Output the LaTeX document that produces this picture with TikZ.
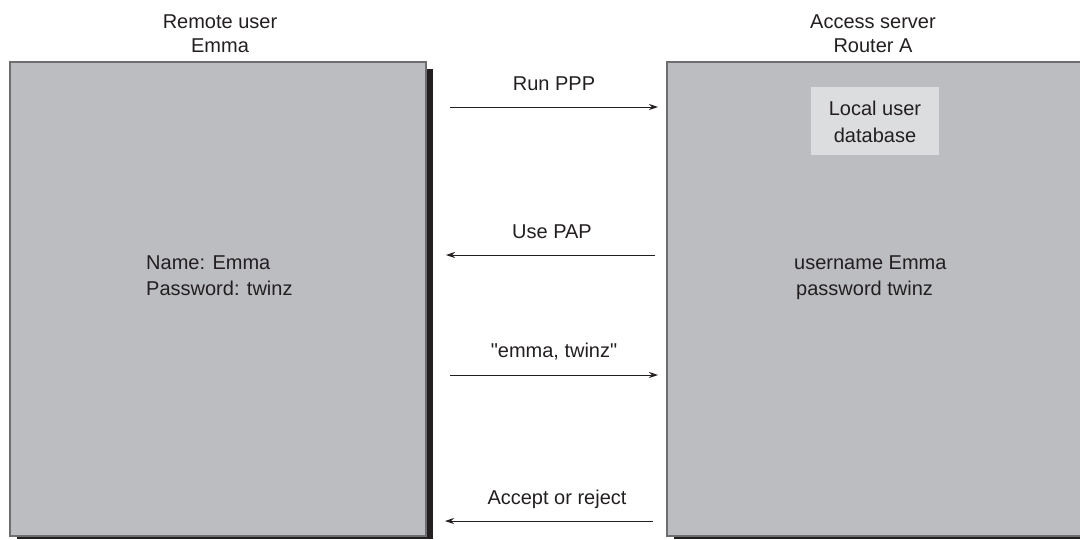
\documentclass[tikz,border=0pt]{standalone}
\usepackage{fontspec}
\setmainfont{Liberation Sans}
\usetikzlibrary{arrows.meta}
\definecolor{panel}{HTML}{BCBDC1}
\definecolor{panelline}{HTML}{6D6E70}
\definecolor{shadowc}{HTML}{231F20}
\definecolor{dbfill}{HTML}{DCDDDF}
\definecolor{ink}{HTML}{231F20}
\tikzset{
  panelbox/.style={fill=panel, draw=panelline, line width=1.5pt},
  shadowbox/.style={fill=shadowc, draw=none},
  label/.style={text=ink, font=\fontsize{20}{26}\selectfont, inner sep=0pt},
  msg/.style={draw=ink, line width=1pt, -{Stealth[length=9pt,width=6pt]}},
}
\begin{document}
\begin{tikzpicture}[x=1pt, y=-1pt]
  \useasboundingbox (0,0) rectangle (1080,539);

  % Remote user panel with drop shadow
  \fill[shadowbox] (17,69) rectangle (433,539);
  \draw[panelbox] (10,62) rectangle (426,536);

  % Access server panel with drop shadow
  \fill[shadowbox] (674,69) rectangle (1080,539);
  \draw[panelbox] (667,62) rectangle (1082,536);

  % Local user database
  \node[fill=dbfill, minimum width=128pt, minimum height=68pt, inner sep=0pt] (db) at (875,121) {};
  \node[label, anchor=base] (dbA) at (875,115) {Local user};
  \node[label, anchor=base] (dbB) at (875,142) {database};

  % Titles
  \node[label, anchor=base] (ltitleA) at (220,28) {Remote user};
  \node[label, anchor=base] (ltitleB) at (220,52) {Emma};
  \node[label, anchor=base] (rtitleA) at (873,28) {Access server};
  \node[label, anchor=base] (rtitleB) at (873,52) {Router A};

  % Credentials
  \node[label, anchor=base west] (credA) at (146,269) {Name: Emma};
  \node[label, anchor=base west] (credB) at (146,295) {Password: twinz};
  \node[label, anchor=base west] (acctA) at (794,269) {username Emma};
  \node[label, anchor=base west] (acctB) at (796,295) {password twinz};

  % Message labels
  \node[label, anchor=base] (m1) at (554,90) {Run PPP};
  \node[label, anchor=base] (m2) at (552,238) {Use PAP};
  \node[label, anchor=base] (m3) at (554,357) {\textquotedbl emma, twinz\textquotedbl};
  \node[label, anchor=base] (m4) at (557,504) {Accept or reject};

  % Message endpoints
  \coordinate (a1) at (450,107); \coordinate (b1) at (658,107);
  \coordinate (a2) at (655,255); \coordinate (b2) at (446,255);
  \coordinate (a3) at (450,375); \coordinate (b3) at (658,375);
  \coordinate (a4) at (653,521); \coordinate (b4) at (445,521);

  \draw[msg] (a1) -- (b1);
  \draw[msg] (a2) -- (b2);
  \draw[msg] (a3) -- (b3);
  \draw[msg] (a4) -- (b4);
\end{tikzpicture}
\end{document}
